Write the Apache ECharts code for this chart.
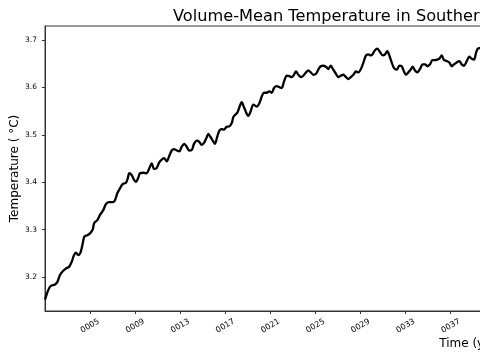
<!DOCTYPE html>
<html><head><meta charset="utf-8">
<script src="https://cdn.jsdelivr.net/npm/echarts@6/dist/echarts.min.js"></script>
<style>html,body{margin:0;padding:0;background:#fff}#c{width:480px;height:360px}</style>
</head><body><div id="c"></div>
<script>
const years = [1.00,1.29,1.51,1.89,2.09,2.33,2.62,2.93,3.13,3.37,3.57,3.75,3.95,4.17,4.35,4.49,4.75,4.99,5.23,5.37,5.64,5.88,6.17,6.41,6.71,7.01,7.21,7.42,7.65,7.89,8.19,8.34,8.48,8.69,8.90,9.07,9.28,9.43,9.72,10.02,10.23,10.47,10.67,10.91,11.14,11.41,11.59,11.80,12.00,12.24,12.45,12.69,12.92,13.13,13.36,13.57,13.78,14.02,14.22,14.46,14.67,14.90,15.11,15.35,15.49,15.70,15.93,16.08,16.29,16.47,16.68,16.88,17.12,17.35,17.57,17.72,18.06,18.30,18.45,18.68,19.04,19.25,19.48,19.78,20.02,20.23,20.43,20.67,20.90,21.12,21.32,21.56,21.79,22.00,22.21,22.45,22.68,22.89,23.09,23.27,23.48,23.72,23.92,24.16,24.36,24.58,24.81,25.05,25.25,25.46,25.69,25.93,26.14,26.35,26.58,26.82,27.03,27.24,27.47,27.71,27.91,28.13,28.36,28.60,28.80,29.01,29.24,29.48,29.69,29.90,30.08,30.28,30.49,30.72,30.96,31.17,31.37,31.55,31.76,31.97,32.21,32.44,32.65,32.85,33.03,33.24,33.45,33.63,33.83,34.03,34.27,34.51,34.72,34.92,35.16,35.37,35.61,35.81,35.99,36.20,36.40,36.64,36.87,37.09,37.29,37.53,37.76,37.97,38.18,38.42,38.65,38.86,39.07,39.24,39.39,39.60,39.80];
const temps = [3.152,3.172,3.181,3.184,3.189,3.204,3.213,3.219,3.221,3.232,3.246,3.251,3.246,3.253,3.271,3.285,3.288,3.292,3.300,3.314,3.320,3.331,3.341,3.354,3.358,3.358,3.362,3.377,3.387,3.396,3.399,3.408,3.419,3.415,3.405,3.401,3.410,3.419,3.420,3.419,3.428,3.440,3.428,3.430,3.442,3.449,3.451,3.444,3.454,3.467,3.470,3.467,3.465,3.475,3.481,3.475,3.467,3.468,3.481,3.488,3.486,3.479,3.483,3.495,3.502,3.495,3.486,3.481,3.497,3.509,3.512,3.511,3.517,3.518,3.525,3.538,3.547,3.562,3.569,3.557,3.540,3.550,3.564,3.560,3.567,3.581,3.589,3.589,3.592,3.589,3.599,3.603,3.601,3.599,3.613,3.625,3.624,3.622,3.627,3.634,3.627,3.622,3.625,3.632,3.636,3.632,3.627,3.629,3.638,3.645,3.646,3.644,3.639,3.646,3.638,3.629,3.622,3.625,3.627,3.622,3.618,3.622,3.627,3.634,3.632,3.638,3.652,3.668,3.670,3.668,3.671,3.679,3.682,3.675,3.668,3.670,3.677,3.668,3.653,3.641,3.638,3.646,3.645,3.634,3.627,3.632,3.638,3.644,3.636,3.632,3.639,3.649,3.649,3.645,3.649,3.658,3.658,3.659,3.661,3.668,3.658,3.656,3.653,3.645,3.649,3.653,3.656,3.649,3.646,3.656,3.665,3.661,3.659,3.673,3.682,3.684,3.686];
const xTickYears = [5,9,13,17,21,25,29,33,37,41,45,49,53,57,61,65,69,73,77];
const yTicks = [3.2,3.3,3.4,3.5,3.6,3.7];
const titleText = 'Volume-Mean Temperature in Southern Ocean';
const xName = 'Time (years)';
const yName = 'Temperature ( °C)';

const chart = echarts.init(document.getElementById('c'), null, {renderer: 'canvas'});
const axisColor = '#333';
chart.setOption({
  animation: false,
  backgroundColor: '#fff',
  title: {
    text: titleText, left: 168, top: 4,
    textStyle: {fontFamily: 'DejaVu Sans', fontSize: 16.2, fontWeight: 'normal', color: '#000'}
  },
  grid: {left: 45, top: 26, width: 864, height: 285, outerBoundsMode: 'none', containLabel: false,
         show: true, borderColor: axisColor, borderWidth: 1, backgroundColor: 'transparent'},
  xAxis: {
    type: 'value', min: 1, max: 77.66,
    name: xName, nameLocation: 'middle', nameGap: 27, nameMoveOverlap: false,
    nameTextStyle: {fontFamily: 'DejaVu Sans', fontSize: 12, color: '#000'},
    axisLine: {show: true, lineStyle: {color: axisColor, width: 1}},
    axisTick: {show: true, length: 3, lineStyle: {color: axisColor}, customValues: xTickYears},
    splitLine: {show: false},
    axisLabel: {
      customValues: xTickYears, rotate: 30, align: 'center', verticalAlign: 'middle', margin: 15,
      fontFamily: 'DejaVu Sans', fontSize: 8, color: '#000',
      formatter: v => String(Math.round(v)).padStart(4, '0')
    }
  },
  yAxis: {
    type: 'value', min: 3.128, max: 3.730,
    name: yName, nameLocation: 'middle', nameGap: 24, nameMoveOverlap: false,
    nameTextStyle: {fontFamily: 'DejaVu Sans', fontSize: 12, color: '#000'},
    axisLine: {show: true, lineStyle: {color: axisColor, width: 1}},
    axisTick: {show: true, length: 3, lineStyle: {color: axisColor}, customValues: yTicks},
    splitLine: {show: false},
    axisLabel: {
      customValues: yTicks, margin: 8,
      fontFamily: 'DejaVu Sans', fontSize: 7.5, color: '#000',
      formatter: v => v.toFixed(1)
    }
  },
  series: [{
    type: 'line', showSymbol: false, smooth: 0.3,
    data: years.map((y, i) => [y, temps[i]]),
    lineStyle: {color: '#000', width: 2.3}
  }]
});
</script>
</body></html>
